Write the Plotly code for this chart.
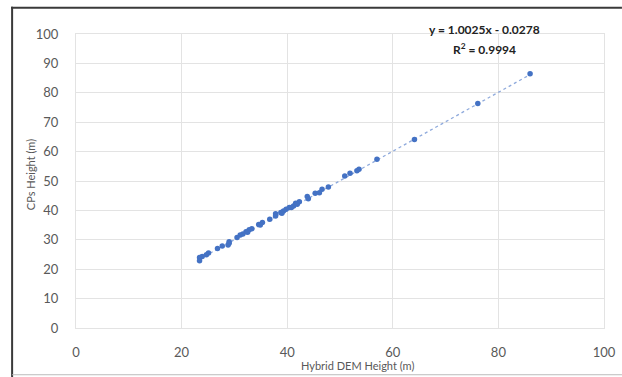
import plotly.graph_objects as go

# Data (Hybrid DEM height vs CPs height, metres)
dem_height = [86.0, 76.1, 64.1, 57.0, 53.6, 53.2, 51.9, 50.9, 47.8, 46.6, 46.1, 45.3,
              43.8, 44.0, 42.3, 41.6, 41.2, 40.4, 39.8, 39.3, 38.8, 37.8, 37.8, 36.7,
              35.3, 34.6, 33.3, 32.8, 32.2, 31.6, 31.1, 30.5, 29.0, 28.8, 27.7, 26.8,
              25.1, 24.7, 23.9, 23.4, 23.4, 41.9, 40.8, 39.0, 34.9, 32.5, 29.0]
cps_height = [86.5, 76.4, 64.1, 57.4, 54.0, 53.5, 52.6, 51.7, 48.0, 47.2, 46.0, 45.8,
              44.7, 44.0, 42.9, 42.4, 41.5, 41.0, 40.4, 39.8, 39.3, 38.9, 38.1, 37.0,
              35.9, 35.2, 33.8, 33.4, 32.7, 32.0, 31.6, 30.8, 29.3, 28.2, 27.9, 27.0,
              25.5, 24.9, 24.3, 24.0, 22.9, 42.1, 41.0, 39.0, 35.0, 32.6, 28.8]

# Linear trendline (as labelled in the chart)
slope = 1.0025
intercept = -0.0278
r_squared = 0.9994

y_ticks = [0, 10, 20, 30, 40, 50, 60, 70, 80, 90, 100]
x_ticks = [0, 20, 40, 60, 80, 100]

trend_x = [min(dem_height), max(dem_height)]
trend_y = [slope * v + intercept for v in trend_x]

fig = go.Figure()
fig.add_trace(go.Scatter(
    x=trend_x, y=trend_y, mode="lines",
    line=dict(color="#8FAADC", width=1.3, dash="dot"),
    hoverinfo="skip", showlegend=False))
fig.add_trace(go.Scatter(
    x=dem_height, y=cps_height, mode="markers",
    marker=dict(color="#4472C4", size=5.5),
    showlegend=False))

grid = "#E3E3E3"
tickfont = dict(family="Lato", size=13, color="#595959")
titlefont = dict(family="Lato", size=11, color="#595959")
fig.update_xaxes(range=[0, 100], tickvals=x_ticks, showgrid=True, gridcolor=grid,
                 gridwidth=1.2, zeroline=False, showline=True, linecolor=grid, mirror=True,
                 linewidth=1.2, ticks="", ticklabelstandoff=12, automargin=False,
                 tickfont=tickfont)
fig.update_yaxes(range=[0, 100], tickvals=y_ticks, showgrid=True, gridcolor=grid,
                 gridwidth=1.2, zeroline=False, showline=True, linecolor=grid, mirror=True,
                 linewidth=1.2, ticks="", ticklabelstandoff=14, automargin=False,
                 tickfont=tickfont)

# axis titles
fig.add_annotation(x=0.533, y=-0.129, xref="paper", yref="paper",
                   xanchor="center", yanchor="middle", showarrow=False,
                   text="Hybrid DEM Height (m)", font=titlefont)
fig.add_annotation(x=-0.087, y=0.52, xref="paper", yref="paper",
                   xanchor="center", yanchor="middle", showarrow=False, textangle=-90,
                   text="CPs Height (m)", font=titlefont)

fig.add_annotation(
    x=0.773, y=1.015, xref="paper", yref="paper", xanchor="center", yanchor="middle",
    text=f"<b>y = {slope:.4f}x - {abs(intercept):.4f}</b>", showarrow=False,
    font=dict(family="Lato", size=12, color="#222222"))
fig.add_annotation(
    x=0.773, y=0.949, xref="paper", yref="paper", xanchor="center", yanchor="middle",
    text=f"<b>R<sup>2</sup> = {r_squared:.4f}</b>", showarrow=False,
    font=dict(family="Lato", size=12, color="#222222"))

# outer frame: dark top and left edges, light bottom edge
fig.add_shape(type="rect", xref="paper", yref="paper",
              x0=-0.123, x1=1.034, y0=1.086, y1=1.093,
              line=dict(width=0), fillcolor="#3A3A3A")
fig.add_shape(type="line", xref="paper", yref="paper",
              x0=-0.121, x1=-0.121, y0=-0.2, y1=1.093,
              line=dict(color="#3A3A3A", width=2))
fig.add_shape(type="line", xref="paper", yref="paper",
              x0=-0.121, x1=1.034, y0=-0.159, y1=-0.159,
              line=dict(color="#BBBBBB", width=1))

fig.update_layout(
    width=622, height=377,
    margin=dict(l=76, r=18, t=34, b=49),
    paper_bgcolor="white", plot_bgcolor="white",
    font=dict(family="Lato"))

fig.write_html("out.html", config={"displayModeBar": False},
               post_script="document.body.style.margin='0px';document.body.style.overflow='hidden';")
